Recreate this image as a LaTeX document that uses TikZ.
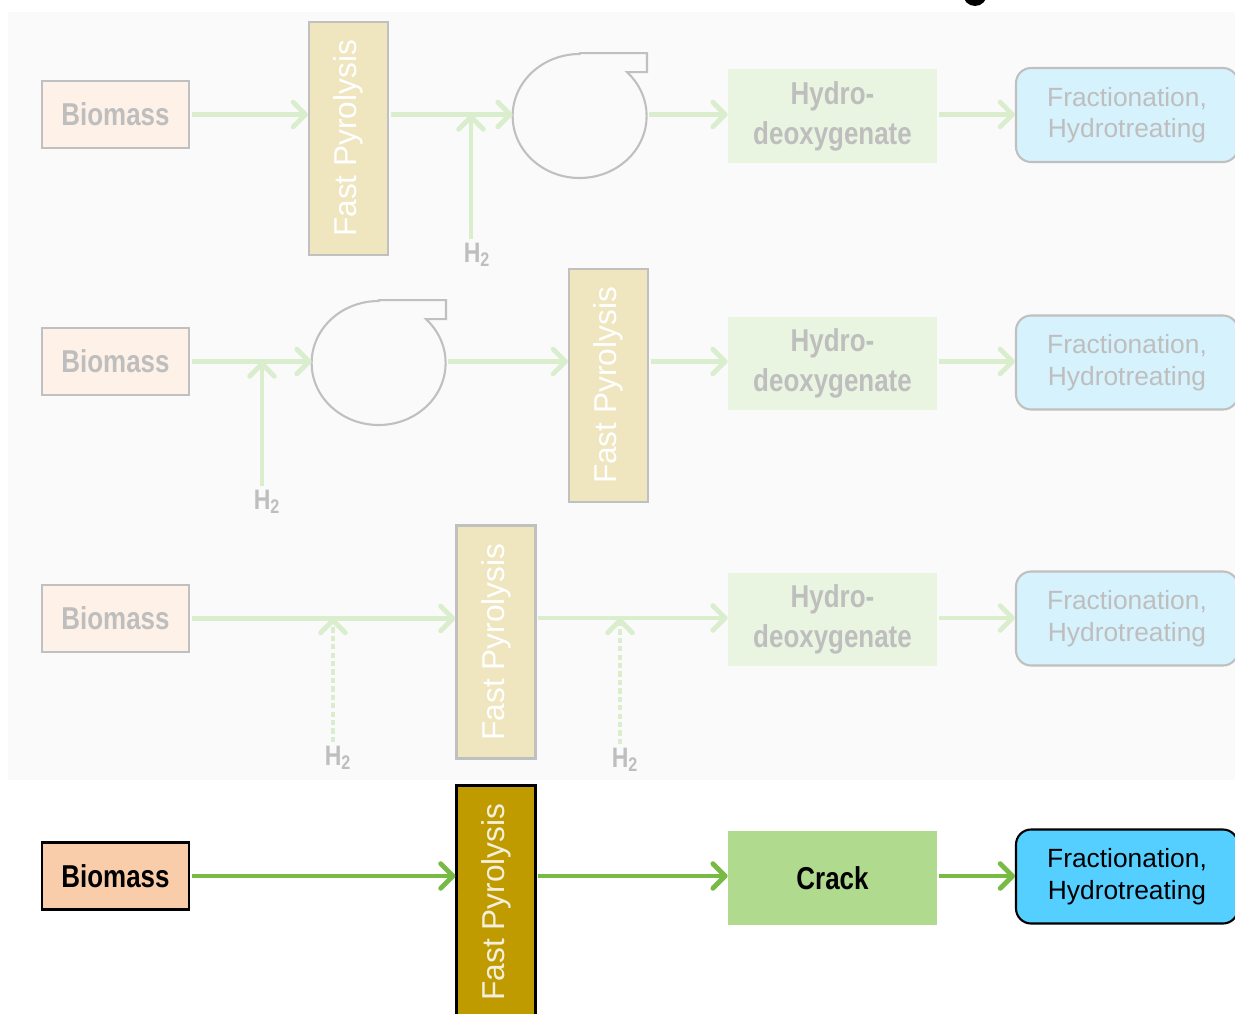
\documentclass[tikz,border=0pt]{standalone}
\usepackage{fontspec}
\setmainfont{Liberation Sans}
\newfontfamily\narrowbf[FakeStretch=0.82]{Liberation Sans Bold}
\usepackage{tikz}
\usetikzlibrary{arrows.meta,shapes.geometric}

\definecolor{panel}{RGB}{250,250,250}
\definecolor{fadeline}{RGB}{192,192,192}
\definecolor{fadetext}{RGB}{190,190,190}
\definecolor{fadebio}{RGB}{254,241,232}
\definecolor{fadefp}{RGB}{239,229,190}
\definecolor{fadehdo}{RGB}{234,245,225}
\definecolor{fadefrac}{RGB}{214,242,252}
\definecolor{fadearrow}{RGB}{218,238,205}
\definecolor{biofill}{RGB}{250,205,170}
\definecolor{fpfill}{RGB}{191,155,0}
\definecolor{fptext}{RGB}{245,240,222}
\definecolor{crackfill}{RGB}{176,218,142}
\definecolor{fracfill}{RGB}{85,207,255}
\definecolor{arrowgreen}{RGB}{119,187,68}

\begin{document}
\begin{tikzpicture}[
        x=0.02cm, y=-0.02cm,
        bio/.style={draw, rectangle, minimum width=2.94cm, minimum height=1.34cm, line width=1.2pt, font=\narrowbf\fontsize{18}{20}\selectfont},
        fp/.style={draw, rectangle, minimum width=1.58cm, minimum height=4.66cm, line width=1.2pt, font=\fontsize{18}{20}\selectfont},
        hdo/.style={rectangle, minimum width=4.18cm, minimum height=1.88cm, align=center, font=\narrowbf\fontsize{18}{22.7}\selectfont},
        frac/.style={draw, rectangle, rounded corners=0.3cm, minimum width=4.44cm, minimum height=1.88cm, line width=1.2pt, align=center, font=\fontsize{15}{18}\selectfont},
        faded/.style={draw=fadeline, text=fadetext},
        htwo/.style={text=fadetext, inner sep=1pt, font=\narrowbf\fontsize{16}{18}\selectfont},
        cyc/.style={draw=fadeline, line width=1.2pt},
        arrow/.style={-{Straight Barb[length=7pt, width=14pt, round]}, line width=2.8pt, shorten <=1pt},
        feed/.style={arrow, fadearrow},
        dotfeed/.style={arrow, fadearrow, dash pattern=on 3pt off 1.8pt}
    ]
\useasboundingbox (0,0) rectangle (1235,1014);
\fill (975,-6) circle (12);
\fill[panel] (8,12) rectangle (1235,780);

% first route: pyrolysis, then hydrogen and a cyclone
\node[bio, faded, fill=fadebio] (bio1) at (115.5,114.5) {Biomass};
        \node[fp, faded, fill=fadefp, text=white] (fp1) at (348.5,138.5) {\rotatebox{90}{Fast Pyrolysis}};
        \node[ellipse, minimum width=2.68cm, minimum height=2.46cm] (cyc1) at (580,115) {};
        \node[hdo, fill=fadehdo, text=fadetext] (hdo1) at (832.5,116) {Hydro-\\deoxygenate};
        \node[frac, faded, fill=fadefrac] (frac1) at (1127,115) {Fractionation,\\Hydrotreating};
        \node[htwo] (h1) at (477,255) {H\textsubscript{2}};
        \coordinate (j1) at (471,114.5);

% second route: hydrogen and a cyclone, then pyrolysis
\node[bio, faded, fill=fadebio] (bio2) at (115.5,361.5) {Biomass};
        \node[ellipse, minimum width=2.68cm, minimum height=2.46cm] (cyc2) at (379,362) {};
        \node[fp, faded, fill=fadefp, text=white] (fp2) at (608.5,385.5) {\rotatebox{90}{Fast Pyrolysis}};
        \node[hdo, fill=fadehdo, text=fadetext] (hdo2) at (832.5,363.5) {Hydro-\\deoxygenate};
        \node[frac, faded, fill=fadefrac] (frac2) at (1127,362.5) {Fractionation,\\Hydrotreating};
        \node[htwo] (h2) at (267,502) {H\textsubscript{2}};
        \coordinate (j2) at (262,361.5);

% third route: hydrogen before and after pyrolysis
\node[bio, faded, fill=fadebio] (bio3) at (115.5,618.5) {Biomass};
        \node[fp, faded, fill=fadefp, text=white] (fp3) at (496,642) {\rotatebox{90}{Fast Pyrolysis}};
        \node[hdo, fill=fadehdo, text=fadetext] (hdo3) at (832.5,619.5) {Hydro-\\deoxygenate};
        \node[frac, faded, fill=fadefrac] (frac3) at (1127,618.5) {Fractionation,\\Hydrotreating};
        \node[htwo] (h3) at (338,758) {H\textsubscript{2}};
        \node[htwo] (h4) at (625,760) {H\textsubscript{2}};
        \coordinate (j3) at (333,618);
        \coordinate (j4) at (620,618);

% highlighted route
\node[bio, fill=biofill] (bio4) at (115.5,876) {Biomass};
        \node[fp, fill=fpfill, text=fptext] (fp4) at (496,902) {\rotatebox{90}{Fast Pyrolysis}};
        \node[hdo, fill=crackfill] (crack) at (832.5,878) {Crack};
        \node[frac, fill=fracfill] (frac4) at (1127,876.5) {Fractionation,\\Hydrotreating};

% cyclones
\draw[cyc] (cyc1.north) -- ++(67,0) -- ++(0,19) -- ++(-20,0) arc[start angle=-45, end angle=270, x radius=67, y radius=62] -- cycle;
        \draw[cyc] (cyc2.north) -- ++(67,0) -- ++(0,19) -- ++(-20,0) arc[start angle=-45, end angle=270, x radius=67, y radius=62] -- cycle;

\draw[feed] (bio1.east) -- (bio1.east -| fp1.west);
        \draw[feed] (fp1.east |- j1) -- (j1 -| cyc1.west);
        \draw[feed] (cyc1.east |- j1) -- (j1 -| hdo1.west);
        \draw[feed] (hdo1.east |- j1) -- (j1 -| frac1.west);
        \draw[feed] (h1.north -| j1) -- (j1);

        \draw[feed] (bio2.east) -- (bio2.east -| cyc2.west);
        \draw[feed] (cyc2.east |- j2) -- (j2 -| fp2.west);
        \draw[feed] (fp2.east |- j2) -- (j2 -| hdo2.west);
        \draw[feed] (hdo2.east |- j2) -- (j2 -| frac2.west);
        \draw[feed] (h2.north -| j2) -- (j2);

        \draw[feed] (bio3.east) -- (bio3.east -| fp3.west);
        \draw[feed] (fp3.east |- j4) -- (j4 -| hdo3.west);
        \draw[feed] (hdo3.east |- j4) -- (j4 -| frac3.west);
        \draw[dotfeed] (h3.north -| j3) -- (j3);
        \draw[dotfeed] (h4.north -| j4) -- (j4);

        \draw[arrow, arrowgreen] (bio4.east) -- (bio4.east -| fp4.west);
        \draw[arrow, arrowgreen] (fp4.east |- bio4) -- (bio4 -| crack.west);
        \draw[arrow, arrowgreen] (crack.east |- bio4) -- (bio4 -| frac4.west);

    \end{tikzpicture}
\end{document}
